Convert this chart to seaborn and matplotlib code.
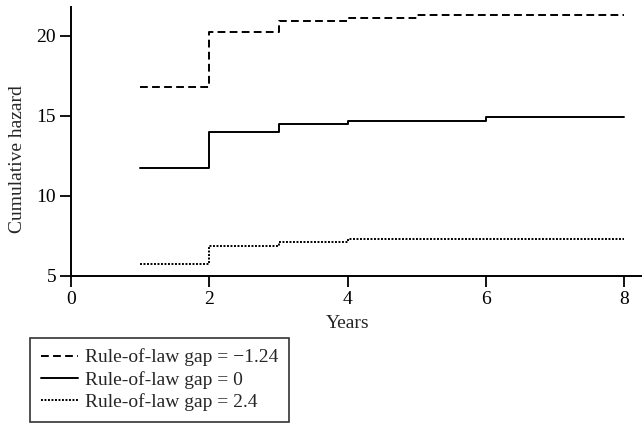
import numpy as np
import pandas as pd
import matplotlib
matplotlib.use("Agg")
import matplotlib.pyplot as plt
import seaborn as sns

# ── data ────────────────────────────────────────────────────────────────────
years_neg = [1, 2, 3, 4, 5, 8]
hazard_neg = [16.8, 20.25, 20.9, 21.1, 21.3, 21.3]

years_zero = [1, 2, 3, 4, 6, 8]
hazard_zero = [11.75, 14.0, 14.5, 14.7, 14.9, 14.9]

years_pos = [1, 2, 3, 4, 8]
hazard_pos = [5.75, 6.85, 7.1, 7.3, 7.3]

labels = ["Rule-of-law gap = \u22121.24", "Rule-of-law gap = 0", "Rule-of-law gap = 2.4"]
x_ticks = [0, 2, 4, 6, 8]
y_ticks = [5, 10, 15, 20]

sns.set_style("ticks")
plt.rcParams["font.family"] = ["Liberation Serif", "DejaVu Serif"]

fig = plt.figure(figsize=(6.42, 4.25), dpi=100)
ax = fig.add_axes([0.1106, 0.3506, 0.889, 0.6329])

series = [
    (years_neg, hazard_neg, (0, (4, 2.2)), labels[0]),
    (years_zero, hazard_zero, "-", labels[1]),
    (years_pos, hazard_pos, (0, (1, 0.8)), labels[2]),
]
for xs, ys, ls, lab in series:
    sns.lineplot(x=xs, y=ys, ax=ax, color="black", linewidth=1.4,
                 linestyle=ls, drawstyle="steps-post", label=lab)

ax.set_xlim(0, 8.25)
ax.set_ylim(5, 21.8)
ax.set_xticks(x_ticks)
ax.set_yticks(y_ticks)
ax.tick_params(axis="both", direction="out", length=8.2, width=1.3,
               labelsize=14, colors="black", pad=2.5)
for side in ["left", "bottom"]:
    ax.spines[side].set_linewidth(1.4)
    ax.spines[side].set_color("black")
sns.despine(ax=ax)

ax.set_xlabel("Years", fontsize=14)
ax.xaxis.set_label_coords(0.485, -0.175)
ax.xaxis.label.set_va("center")
ax.set_ylabel("Cumulative hazard", fontsize=14)
ax.yaxis.set_label_coords(-0.093, 0.435)
ax.yaxis.label.set_va("center")

leg = ax.legend(loc="upper left", bbox_to_anchor=(-0.072, -0.23),
                frameon=True, fancybox=False, fontsize=14, handlelength=1.9,
                handletextpad=0.4, borderpad=0.55, labelspacing=0.23,
                borderaxespad=0)
leg.get_frame().set_edgecolor("black")
leg.get_frame().set_linewidth(1.2)

plt.savefig("out.png", dpi=100)
plt.close()
